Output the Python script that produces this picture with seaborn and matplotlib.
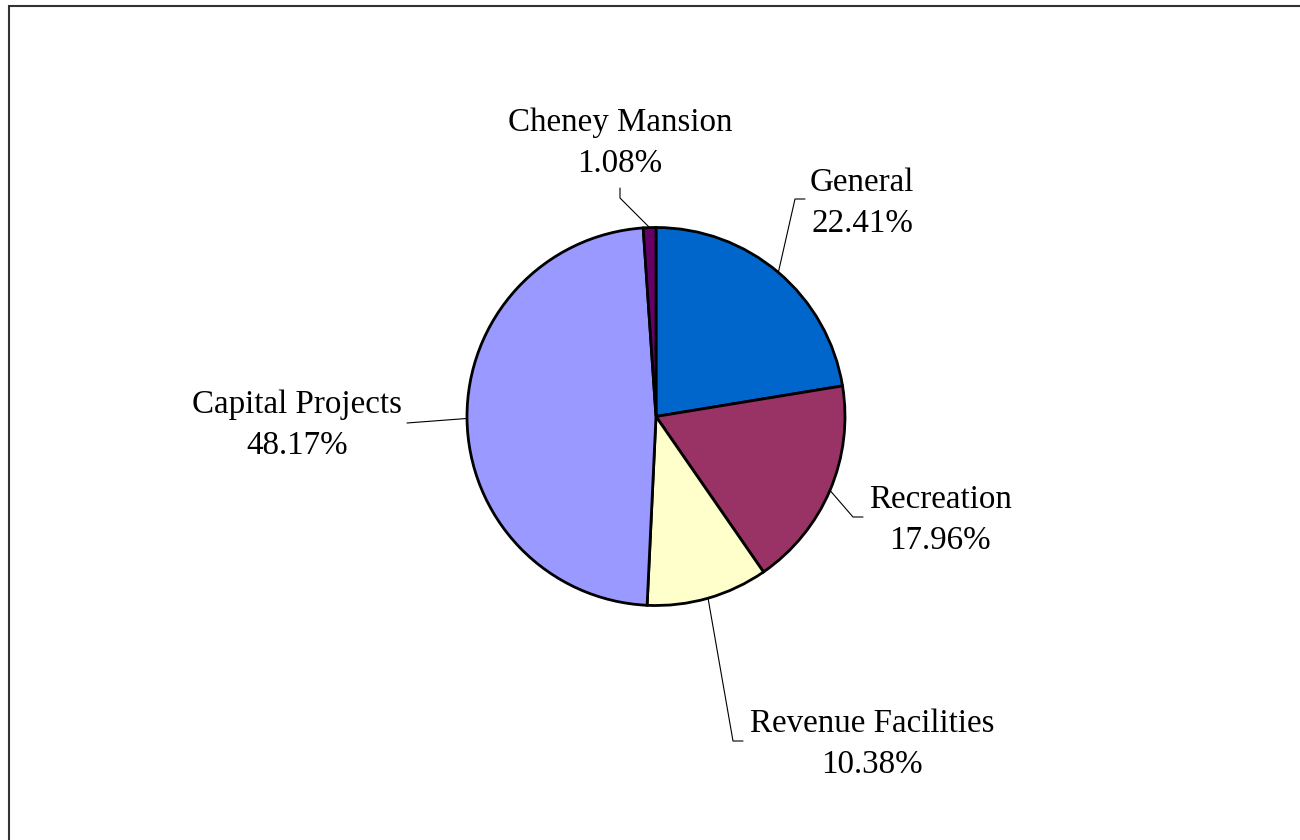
import numpy as np
import matplotlib
matplotlib.use("Agg")
import matplotlib.pyplot as plt
import seaborn as sns

# Fund shares, in drawing order (clockwise from 12 o'clock)
funds = ["General", "Recreation", "Revenue Facilities", "Capital Projects", "Cheney Mansion"]
shares = [22.41, 17.96, 10.38, 48.17, 1.08]
colors = ["#0066CC", "#993366", "#FFFFCC", "#9999FF", "#660066"]

sns.set_theme(style="white")
plt.rcParams["font.family"] = ["Liberation Serif", "DejaVu Serif"]

W, H = 1300, 840
fig = plt.figure(figsize=(W / 100, H / 100), dpi=100)
ax = fig.add_axes([0, 0, 1, 1])


def yy(y):
    """Convert a top-down pixel row into the axis' upward y coordinate."""
    return H - y


cx, cy, r = 656, yy(416.5), 189
wedges, _ = ax.pie(
    shares,
    colors=colors,
    startangle=90,
    counterclock=False,
    center=(cx, cy),
    radius=r,
    wedgeprops=dict(edgecolor="black", linewidth=2.0),
    frame=True,
)
ax.set_xlim(0, W)
ax.set_ylim(0, H)
ax.set_aspect("equal")
ax.axis("off")

# Label placement: text centre, then leader polyline from the text towards the slice
label_layout = {
    "General": dict(text=(862, 203), path=[(805, 199), (795, 199)]),
    "Recreation": dict(text=(940, 520.5), path=[(863, 517), (853, 517)]),
    "Revenue Facilities": dict(text=(872, 744), path=[(743, 741), (733, 741)]),
    "Capital Projects": dict(text=(297, 425.5), path=[(407, 423)]),
    "Cheney Mansion": dict(text=(620, 143), path=[(620, 188), (620, 198)]),
}

for w, name, val in zip(wedges, funds, shares):
    mid = np.deg2rad((w.theta1 + w.theta2) / 2)
    edge = (cx + r * np.cos(mid), cy + r * np.sin(mid))
    lay = label_layout[name]
    xs = [p[0] for p in lay["path"]] + [edge[0]]
    ys = [yy(p[1]) for p in lay["path"]] + [edge[1]]
    ax.plot(xs, ys, color="black", linewidth=0.8, zorder=0.5)
    tx, ty = lay["text"]
    ax.text(tx, yy(ty), f"{name}\n{val:.2f}%", ha="center", va="center",
            fontsize=23.8, color="black", linespacing=1.46)

# Outer frame (runs off the right and bottom edges)
frame = plt.Rectangle((8.5 / W, -0.05), 1.1, 1 - 5.5 / H + 0.05,
                      transform=fig.transFigure, fill=False,
                      edgecolor="#333333", linewidth=1.5)
fig.patches.append(frame)

fig.savefig("out.png", dpi=100, facecolor="white")
